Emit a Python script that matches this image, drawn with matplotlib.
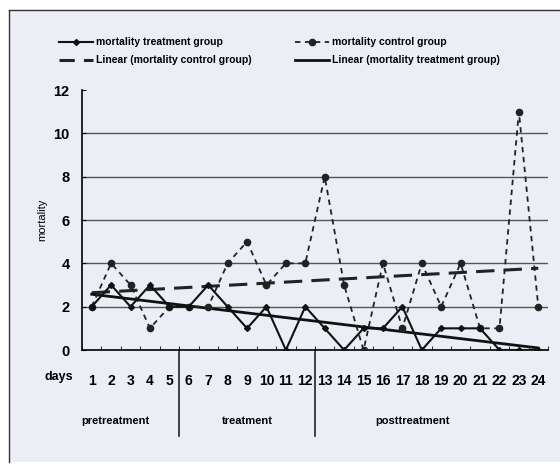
import numpy as np
import matplotlib
matplotlib.use('Agg')
import matplotlib.pyplot as plt
from matplotlib.lines import Line2D
from matplotlib.patches import Rectangle

days = list(range(1, 25))
mortality_treatment = [2, 3, 2, 3, 2, 2, 3, 2, 1, 2, 0, 2, 1, 0, 1, 1, 2, 0, 1, 1, 1, 0, 0, 0]
mortality_control = [2, 4, 3, 1, 2, 2, 2, 4, 5, 3, 4, 4, 8, 3, 0, 4, 1, 4, 2, 4, 1, 1, 11, 2]
phase_labels = ['pretreatment', 'treatment', 'posttreatment']
phase_bounds = [5.5, 12.5]

plt.rcParams['font.family'] = ['Liberation Sans', 'DejaVu Sans']
plt.rcParams['font.weight'] = 'bold'

bg = '#eceef6'
fig = plt.figure(figsize=(5.6, 4.66), dpi=100)
fig.patch.set_facecolor('white')
# scanned page panel with dark edge on left and top
fig.patches.append(Rectangle((9 / 560, 4 / 466), 1.0, 452 / 466, transform=fig.transFigure,
                             facecolor=bg, edgecolor='none', zorder=-5))
fig.lines.append(Line2D([9 / 560, 9 / 560], [4 / 466, 456 / 466], transform=fig.transFigure,
                        color='#333333', linewidth=1.0, zorder=-4))
fig.lines.append(Line2D([9 / 560, 1.0], [456 / 466, 456 / 466], transform=fig.transFigure,
                        color='#333333', linewidth=1.0, zorder=-4))

ax = fig.add_axes([82 / 560, 116 / 466, 466 / 560, 260 / 466])
ax.set_facecolor(bg)

x = np.array(days)
# linear trendlines (like Excel)
kt = np.polyfit(x, mortality_treatment, 1)
kc = np.polyfit(x, mortality_control, 1)

ax.plot(x, np.polyval(kc, x), color='#222222', linestyle=(0, (6, 3)), linewidth=2.2, zorder=3)
ax.plot(x, np.polyval(kt, x), color='#111111', linestyle='-', linewidth=2.0, zorder=3)
ax.plot(x, mortality_control, color='#222222', linestyle=(0, (3, 2.5)), linewidth=1.3,
        marker='o', markersize=4.5, zorder=4)
ax.plot(x, mortality_treatment, color='#111111', linestyle='-', linewidth=1.5,
        marker='D', markersize=3, zorder=5)

ax.set_xlim(0.5, 24.5)
ax.set_ylim(0, 12)
ax.set_yticks(range(0, 13, 2))
ax.tick_params(axis='y', labelsize=10.5, length=3, direction='in', pad=9)
for g in range(2, 12, 2):
    ax.axhline(g, color='#555555', linewidth=1.0, zorder=1)

ax.set_xticks(days)
ax.set_xticklabels([str(d) for d in days], fontsize=10)
ax.set_xticks(np.arange(0.5, 25, 1), minor=True)
ax.tick_params(axis='x', which='major', length=0, pad=17)
ax.tick_params(axis='x', which='minor', length=3, direction='in')
for s in ['top', 'right']:
    ax.spines[s].set_visible(False)
ax.spines['left'].set_linewidth(1.2)
ax.spines['bottom'].set_linewidth(1.2)

ax.set_ylabel('mortality', fontsize=8)
ax.text(-0.08, -0.105, 'days', transform=ax.transAxes, fontsize=9, ha='left', va='center')

for b in phase_bounds:
    ax.add_line(Line2D([b, b], [0, -0.33], transform=ax.get_xaxis_transform(),
                       color='#222222', linewidth=1.2, clip_on=False))
ax.text(0.45, -0.275, phase_labels[0], transform=ax.get_xaxis_transform(), fontsize=8, ha='left', va='center')
ax.text(9.0, -0.275, phase_labels[1], transform=ax.get_xaxis_transform(), fontsize=8, ha='center', va='center')
ax.text(17.5, -0.275, phase_labels[2], transform=ax.get_xaxis_transform(), fontsize=8, ha='center', va='center')

handles = [
    Line2D([], [], color='#111111', linestyle='-', linewidth=1.5, marker='D', markersize=3),
    Line2D([], [], color='#222222', linestyle=(0, (5, 3)), linewidth=2.2),
    Line2D([], [], color='#222222', linestyle=(0, (3, 2.5)), linewidth=1.3, marker='o', markersize=4.5),
    Line2D([], [], color='#111111', linestyle='-', linewidth=2.0),
]
labels = ['mortality treatment group', 'Linear (mortality control group)',
          'mortality control group', 'Linear (mortality treatment group)']
fig.legend(handles, labels, ncol=2, loc='upper left', bbox_to_anchor=(50 / 560, 1 - 28 / 466),
           frameon=False, fontsize=7.5, handlelength=3.2, columnspacing=4.2,
           labelspacing=0.75, handletextpad=0.3)

fig.savefig('out.png', dpi=100, facecolor=fig.get_facecolor())
